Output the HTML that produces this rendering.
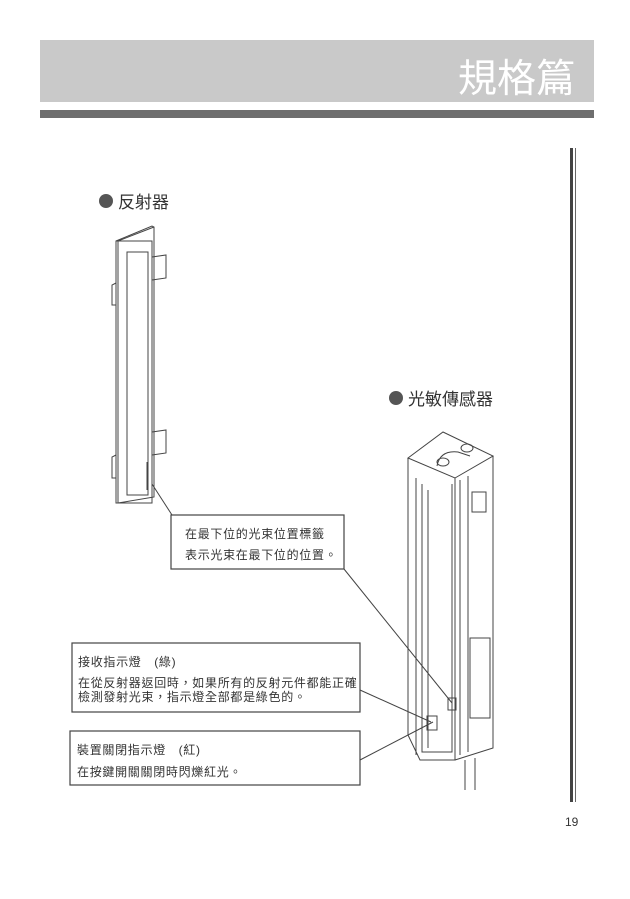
<!DOCTYPE html>
<html><head><meta charset="utf-8"><style>
body{margin:0;background:#fff}
svg{display:block}
text{font-family:"Liberation Sans","Noto Sans CJK TC",sans-serif;fill:#333}
</style></head><body>
<svg width="630" height="899" viewBox="0 0 630 899" xmlns="http://www.w3.org/2000/svg">
<rect x="40" y="40" width="554" height="62" fill="#c9c9c9"/>
<text x="575" y="92" text-anchor="end" font-size="39" style="fill:#fff">規格篇</text>
<rect x="40" y="110" width="554" height="8" fill="#6e6e6e"/>
<rect x="570" y="148" width="3" height="654" fill="#444"/>
<rect x="575" y="148" width="1" height="654" fill="#666"/>
<text x="565" y="826" font-size="12">19</text>

<circle cx="106" cy="201" r="7" fill="#555"/>
<text x="118" y="208" font-size="17">反射器</text>
<circle cx="396" cy="398" r="7" fill="#555"/>
<text x="408" y="405" font-size="17">光敏傳感器</text>

<g fill="none" stroke="#444" stroke-width="1">
<path d="M116,241 L152,226 L154,227 L154,497 L118,503 L116,503 Z"/>
<path d="M116,241 L118,241 L154,227"/>
<rect x="118" y="241" width="34" height="262"/>
<rect x="127" y="252" width="21" height="243"/>
<path d="M152,257 L166,255 L166,278 L152,280"/>
<path d="M152,432 L166,430 L166,453 L152,455"/>
<path d="M116,283 L112,285 L112,305 L116,305"/>
<path d="M116,455 L112,457 L112,478 L116,478"/>
<path d="M147,462 L147,490"/>
<path d="M152,484 L172,515"/>
<path d="M344,569 L452,703"/>
<path d="M360,690 L431,722"/>
<path d="M360,760 L433,722"/>
<path d="M408,458 L443,432 L493,456 L455,478 Z"/>
<path d="M408,458 L408,735 L420,760 L455,760 L455,478"/>
<path d="M493,456 L493,748 L455,760"/>
<path d="M416,478 L416,755"/>
<path d="M422,484 L422,752 L452,752 L452,484"/>
<path d="M428,490 L428,748"/>
<path d="M460,480 L460,755"/>
<path d="M468,476 L468,752"/>
<rect x="472" y="492" width="14" height="20"/>
<rect x="470" y="638" width="20" height="80"/>
<rect x="448" y="698" width="8" height="12"/>
<rect x="427" y="716" width="10" height="14"/>
<ellipse cx="443" cy="462" rx="6" ry="4"/>
<ellipse cx="467" cy="448" rx="6" ry="4"/>
<path d="M437,466 Q440,450 458,452 L470,456"/>
<path d="M465,760 L465,790 M475,758 L475,790"/>
</g>
<g fill="#fff" stroke="#444" stroke-width="1.2">
<rect x="171" y="515" width="173" height="54"/>
<rect x="72" y="643" width="288" height="69"/>
<rect x="70" y="731" width="290" height="54"/>
</g>
<g font-size="12" letter-spacing="0.7">
<text x="185" y="538">在最下位的光束位置標籤</text>
<text x="185" y="559">表示光束在最下位的位置。</text>
<text x="78" y="666">接收指示燈　(綠)</text>
<text x="78" y="687">在從反射器返回時，如果所有的反射元件都能正確</text>
<text x="78" y="701">檢測發射光束，指示燈全部都是綠色的。</text>
<text x="77" y="754">裝置關閉指示燈　(紅)</text>
<text x="77" y="776">在按鍵開關關閉時閃爍紅光。</text>
</g>
</svg>
</body></html>
